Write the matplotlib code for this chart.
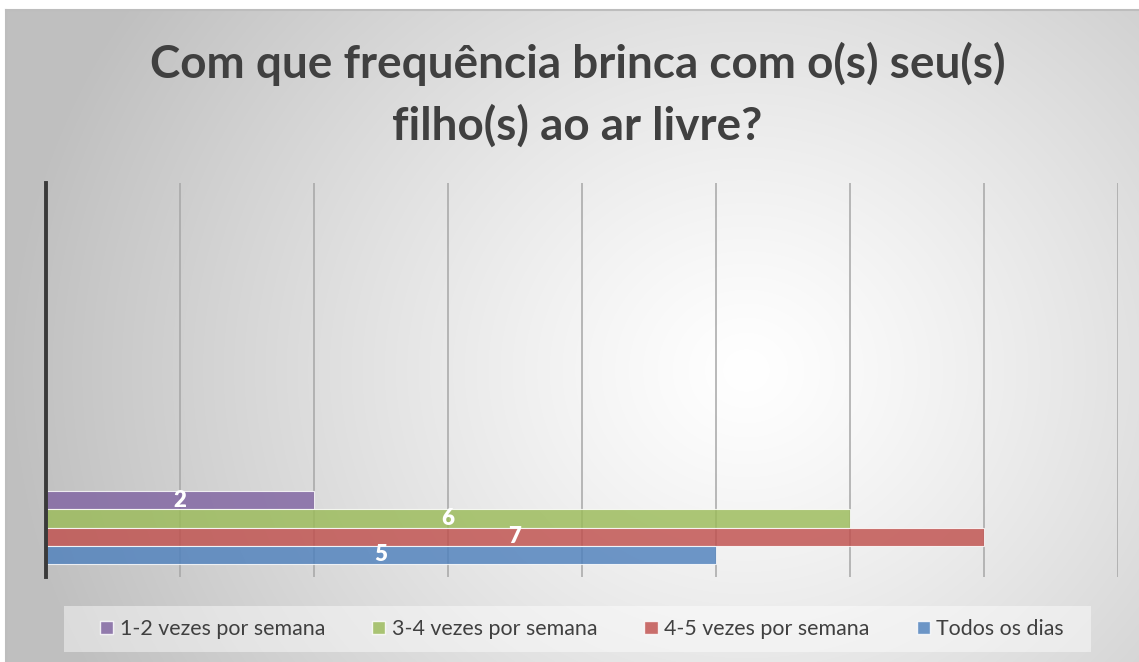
import matplotlib.pyplot as plt
import numpy as np
from matplotlib.patches import Patch, Rectangle

title_lines = ["Com que frequência brinca com o(s) seu(s)", "filho(s) ao ar livre?"]
series = ["1-2 vezes por semana", "3-4 vezes por semana",
          "4-5 vezes por semana", "Todos os dias"]
values = [2, 6, 7, 5]
colors = ["#8064A2", "#9BBB59", "#C0504D", "#4F81BD"]
x_max = 8

plt.rcParams["font.family"] = ["Lato", "DejaVu Sans"]
W, H = 1139, 662
fig = plt.figure(figsize=(W / 100, H / 100), dpi=100)
fig.patch.set_facecolor("white")

# chart area with radial grey gradient
x0, y0 = 6, 10
bg = fig.add_axes([x0 / W, 0, 1 - x0 / W, 1 - y0 / H])
yy, xx = np.mgrid[0:H - y0, 0:W - x0]
r = np.hypot(xx - 740, (yy - 360) * 1.1) / 740
shade = 1 - 0.25 * np.clip(r, 0, 1) ** 1.2
bg.imshow(np.dstack([shade] * 3), aspect="auto", interpolation="bilinear")
bg.set_xticks([]); bg.set_yticks([])
for s in ["right", "bottom"]:
    bg.spines[s].set_visible(False)
for s in ["top", "left"]:
    bg.spines[s].set_color("#bdbdbd"); bg.spines[s].set_linewidth(1.5)

ax = fig.add_axes([46 / W, 1 - 577 / H, (1118 - 46) / W, (577 - 183) / H])
ax.patch.set_alpha(0)
n = len(values)
pos = np.arange(n)[::-1] + 0.5
bars = ax.barh(pos, values, height=1.0, color=colors, alpha=0.82,
               edgecolor="white", linewidth=0.8, zorder=3)
ax.bar_label(bars, labels=[str(v) for v in values], label_type="center",
             color="white", fontsize=16, fontweight="heavy", zorder=4)
ax.set_xlim(0, x_max)
ax.set_ylim(-0.71, 20.9)
ax.set_xticks(np.arange(0, x_max + 1))
ax.set_yticks([])
ax.tick_params(axis="x", length=0, labelbottom=False)
ax.grid(axis="x", color="#a6a6a6", linewidth=1.1, zorder=0)
for s in ["top", "right", "bottom"]:
    ax.spines[s].set_visible(False)
ax.spines["left"].set_color("#3a3a3a")
ax.spines["left"].set_linewidth(2.8)
ax.spines["left"].set_zorder(5)

for line, base in zip(title_lines, [78, 140]):
    fig.text(0.507, 1 - base / H, line, ha="center", va="baseline", fontsize=33,
             fontweight="bold", color="#404040")

# legend background box
fig.patches.append(Rectangle((64 / W, 1 - 652 / H), (1091 - 64) / W, 46 / H,
                             transform=fig.transFigure, facecolor="white",
                             alpha=0.45, edgecolor="none"))
handles = [Patch(facecolor=c, edgecolor="white", alpha=0.82, label=s)
           for c, s in zip(colors, series)]
fig.legend(handles=handles, loc="center", bbox_to_anchor=(582 / W, 1 - 629 / H),
           ncol=4, frameon=False, fontsize=15.4, handlelength=0.62,
           handleheight=0.62, handletextpad=0.3, columnspacing=2.2,
           labelcolor="#404040")

fig.savefig("out.png", dpi=100)
